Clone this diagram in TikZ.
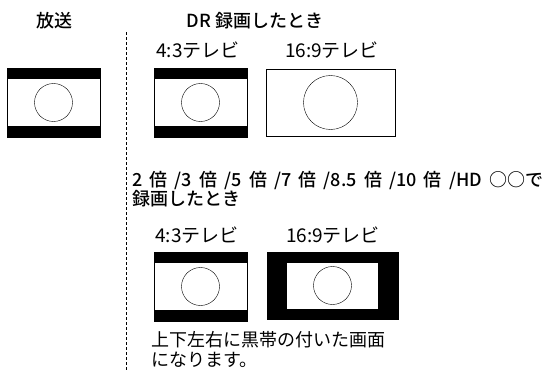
\documentclass[tikz,border=0pt]{standalone}
\usepackage{fontspec}
\setmainfont{Noto Sans CJK JP}[BoldFont={Noto Sans CJK JP Medium}]
\usetikzlibrary{positioning}
\tikzset{
  screen/.style={rectangle, draw=black, fill=white, line width=0.7pt, inner sep=0pt},
  letterbox/.style={screen, minimum width=93pt, minimum height=69pt,
                    path picture={
                      \fill[black] (path picture bounding box.north west) rectangle ([yshift=-11pt]path picture bounding box.north east);
                      \fill[black] (path picture bounding box.south west) rectangle ([yshift=11pt]path picture bounding box.south east);
                      \draw[thin] (path picture bounding box.center) circle[radius=19pt];}},
  fullwide/.style={screen, minimum width=129pt, minimum height=67pt,
                   path picture={
                     \draw[thin] (path picture bounding box.center) circle[radius=27pt];}},
  windowbox/.style={screen, fill=black, minimum width=131pt, minimum height=67pt,
                    path picture={
                      \fill[white] ([xshift=-45.5pt, yshift=-23pt]path picture bounding box.center) rectangle ([xshift=45.5pt, yshift=23pt]path picture bounding box.center);
                      \draw[thin] (path picture bounding box.center) circle[radius=19pt];}},
  heading/.style={font=\fontsize{18}{17}\selectfont\bfseries, inner sep=0pt},
  tvlabel/.style={font=\fontsize{19}{21}\selectfont, inner sep=0pt},
  note/.style={font=\fontsize{18}{20}\selectfont, inner sep=0pt, align=left},
  divider/.style={draw=black, line width=0.6pt, dash pattern=on 3pt off 2pt},
}
\begin{document}
\begin{tikzpicture}[x=1pt, y=-1pt]
  \useasboundingbox (0,0) rectangle (550,372);

  % headings and divider
  \node[heading] (bcasthead) at (55,21) {放送};
  \node[heading] (drhead) at (255,21) {DR 録画したとき};
  \coordinate (divtop) at (126,32);
  \coordinate (divbot) at (126,372);
  \draw[divider] (divtop) -- (divbot);

  % broadcast
  \node[letterbox] (bcast) at (53.5,102.5) {};

  % DR recording
  \node[letterbox] (dr43) at (200.5,102.5) {};
  \node[fullwide] (dr169) at (330.5,102.5) {};
  \node[tvlabel] (dr43label) at (198,50) {4:3テレビ};
  \node[tvlabel] (dr169label) at (332,50) {16:9テレビ};

  % other recording modes
  \node[heading, anchor=north west, align=left] (modehead) at (132,171)
        {\spaceskip=7.2pt\relax 2 倍 /3 倍 /5 倍 /7 倍 /8.5 倍 /10 倍 /HD ○○で\\録画したとき};
  \node[letterbox] (low43) at (200.5,286.5) {};
  \node[windowbox] (low169) at (332.5,285.5) {};
  \node[tvlabel] (low43label) at (197,235) {4:3テレビ};
  \node[tvlabel] (low169label) at (333,235) {16:9テレビ};
  \node[note, anchor=north west] (lownote) at (151,331)
        {上下左右に黒帯の付いた画面\\になります。};
\end{tikzpicture}
\end{document}
